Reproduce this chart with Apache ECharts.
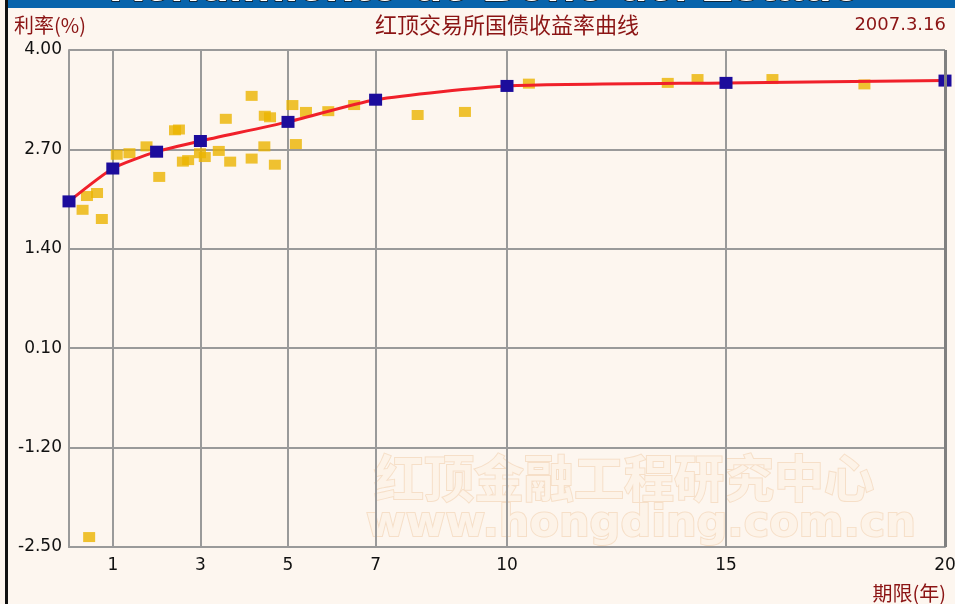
<!DOCTYPE html>
<html>
<head>
<meta charset="utf-8">
<script src="https://cdn.jsdelivr.net/npm/echarts@6/dist/echarts.min.js"></script>
<style>
html,body{margin:0;padding:0;background:#fdf6ef;}
#main{width:955px;height:604px;}
</style>
</head>
<body>
<div id="main"></div>
<script>
// 期限(年) / 利率(%) - 拟合曲线关键点
var curveX = [0, 1, 2, 3, 5, 7, 10, 15, 20];
var curveY = [2.02, 2.45, 2.67, 2.81, 3.06, 3.35, 3.53, 3.57, 3.60];
// 各只国债的实际收益率
var bondX = [0.31, 0.41, 0.64, 0.75, 0.46, 1.09, 1.38, 1.77, 2.06, 2.42, 2.51, 2.60, 2.72, 2.99, 3.10, 3.42, 3.58, 3.68,
	4.17, 4.17, 4.47, 4.59, 4.46, 4.70, 5.10, 5.18, 5.41, 5.92, 6.51, 7.96, 9.04, 10.50, 13.67, 14.35, 16.06, 18.16];
var bondY = [1.91, 2.09, 2.13, 1.79, -2.37, 2.63, 2.65, 2.74, 2.34, 2.95, 2.96, 2.54, 2.56, 2.65, 2.60, 2.68, 3.10, 2.54,
	3.40, 2.58, 3.14, 3.12, 2.74, 2.50, 3.28, 2.77, 3.19, 3.20, 3.28, 3.15, 3.19, 3.56, 3.57, 3.62, 3.62, 3.55];
// 坐标轴刻度
var xTicks = [1, 3, 5, 7, 10, 15, 20];
var yMin = -2.5, yMax = 4.0, yStep = 1.3;

function pairs(xs, ys){
	var arr = [];
	for(var i=0;i<xs.length;i++){
		arr.push([xs[i], ys[i]]);
	}
	return arr;
}

var charts = echarts.init(document.getElementById("main"));
var darkRed = '#8b1414';
var gridColor = '#9a9a9a';
option = {
	backgroundColor: '#fdf6ef',
	animation: false,
	grid: {
		left: 69,
		right: 10,
		top: 50,
		bottom: 57,
		outerBoundsMode: 'none',
		containLabel: false
	},
	graphic: [
		// 顶部蓝条
		{ type:'rect', left:5, top:0, shape:{width:950, height:8}, style:{fill:'#0864ac'}, z:10 },
		{ type:'text', x:485, y:-12, z:11, style:{text:'Rendimiento de Bono del Estado', fill:'#ffffff', stroke:'#111', lineWidth:1.5,
			font:'bold 48px "Liberation Sans"', align:'center', verticalAlign:'middle'} },
		// 左侧黑边
		{ type:'rect', left:5, top:0, shape:{width:3, height:604}, style:{fill:'#111'}, z:12 },
		// 文字
		{ type:'text', x:14, y:25, style:{text:'利率(%)', fill:darkRed, font:'20px "Noto Sans CJK SC"', verticalAlign:'middle'} },
		{ type:'text', x:507, y:25, style:{text:'红顶交易所国债收益率曲线', fill:darkRed, font:'22px "Noto Sans CJK SC"', align:'center', verticalAlign:'middle'} },
		{ type:'text', x:946, y:25, style:{text:'2007.3.16', fill:darkRed, font:'18px "DejaVu Sans"', align:'right', verticalAlign:'middle'} },
		{ type:'text', x:946, y:593, style:{text:'期限(年)', fill:darkRed, font:'20px "Noto Sans CJK SC"', align:'right', verticalAlign:'middle'} },
		// 水印
		{ type:'text', x:624, y:478, z:0, style:{text:'红顶金融工程研究中心', fill:'#fdf3e8', stroke:'#f6dfc8', lineWidth:2,
			font:'bold 50px "Noto Sans CJK SC"', align:'center', verticalAlign:'middle'} },
		{ type:'text', x:641, y:525, z:0, style:{text:'www.hongding.com.cn', fill:'#fdf3e8', stroke:'#f6dfc8', lineWidth:2,
			font:'bold 43px "DejaVu Sans"', align:'center', verticalAlign:'middle'} }
	],
	xAxis: {
		type: 'value',
		min: 0,
		max: 20,
		axisLine: { show: true, onZero: false, lineStyle: { color: gridColor, width: 2 } },
		axisTick: { show: false, customValues: xTicks },
		axisLabel: {
			customValues: xTicks,
			margin: 10,
			color: '#111',
			fontFamily: 'DejaVu Sans',
			fontSize: 17
		},
		splitLine: { show: true, lineStyle: { color: gridColor, width: 2 } }
	},
	yAxis: {
		type: 'value',
		min: yMin,
		max: yMax,
		interval: yStep,
		axisLine: { show: true, lineStyle: { color: gridColor, width: 2 } },
		axisTick: { show: false },
		axisLabel: {
			margin: 7,
			color: '#111',
			fontFamily: 'DejaVu Sans',
			fontSize: 17,
			formatter: function(v){ return v.toFixed(2); }
		},
		splitLine: { show: true, lineStyle: { color: gridColor, width: 2 } }
	},
	series: [
		{
			name: '国债',
			type: 'scatter',
			symbol: 'rect',
			symbolSize: [12, 10],
			itemStyle: { color: '#ebb400' },
			data: pairs(bondX, bondY),
			z: 2
		},
		{
			name: '收益率曲线',
			type: 'line',
			smooth: 0.2,
			symbol: 'rect',
			symbolSize: [13, 12],
			showAllSymbol: true,
			lineStyle: { color: '#f0202a', width: 3 },
			itemStyle: { color: '#1c0c9c' },
			data: pairs(curveX, curveY),
			markLine: {
				silent: true,
				symbol: 'none',
				label: { show: false },
				lineStyle: { color: '#808080', width: 3, type: 'solid' },
				data: [{ xAxis: 20 }]
			},
			z: 3
		}
	]
};
charts.setOption(option);
</script>
</body>
</html>
